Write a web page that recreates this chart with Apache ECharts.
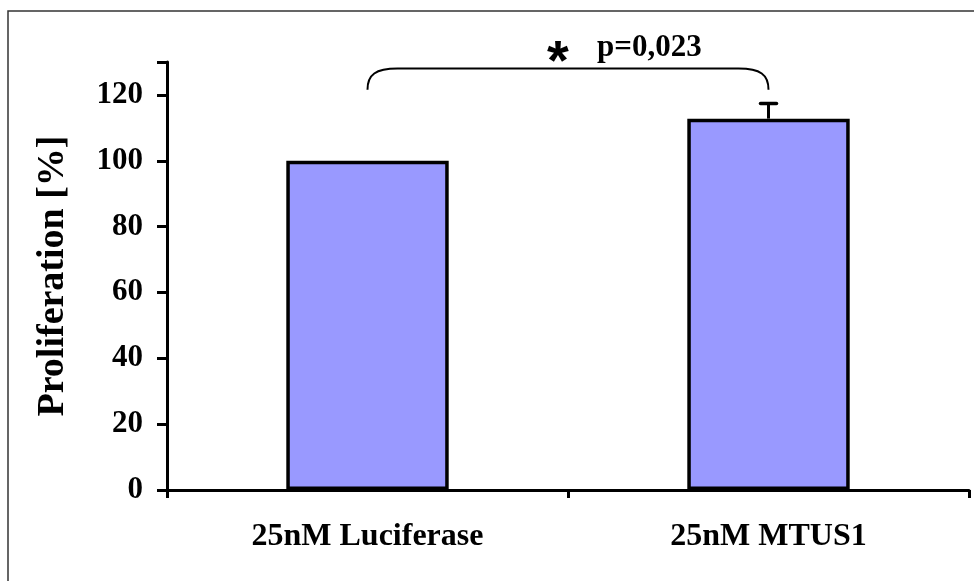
<!DOCTYPE html>
<html>
<head>
<meta charset="utf-8">
<script src="https://cdn.jsdelivr.net/npm/echarts@6/dist/echarts.min.js"></script>
<style>
html,body{margin:0;padding:0;background:#fff;}
#c{width:974px;height:581px;}
</style>
</head>
<body>
<div id="c"></div>
<script>
var categories = ['25nM Luciferase', '25nM MTUS1'];
var values = [100, 112.8];
var errors = [0, 4.6];
var yTicks = [0, 20, 40, 60, 80, 100, 120];
var bracket = [0, 1, 128, 121.6];
var pLabel = 'p=0,023';
var starLabel = '*';

var serif = '"Liberation Serif", "Times New Roman", serif';
var chart = echarts.init(document.getElementById('c'), null, {renderer: 'canvas'});

var errData = values.map(function (v, i) { return [i, v, errors[i]]; });

chart.setOption({
  animation: false,
  backgroundColor: '#fff',
  graphic: [{
    type: 'rect',
    shape: {x: 8, y: 11, width: 1100, height: 1100},
    style: {fill: 'none', stroke: '#333', lineWidth: 1.5},
    silent: true, z: -1
  }],
  grid: {left: 167, right: 5, top: 62, bottom: 91, containLabel: false},
  xAxis: {
    type: 'category',
    data: categories,
    axisLine: {lineStyle: {color: '#000', width: 3}},
    axisTick: {show: true, length: 8, lineStyle: {color: '#000', width: 3}},
    axisLabel: {color: '#000', fontFamily: serif, fontWeight: 'bold', fontSize: 32, margin: 31}
  },
  yAxis: {
    type: 'value',
    min: 0, max: 130, interval: 20,
    name: 'Proliferation [%]',
    nameLocation: 'middle',
    nameGap: 95,
    nameTextStyle: {color: '#000', fontFamily: serif, fontWeight: 'bold', fontSize: 38},
    axisLine: {show: true, lineStyle: {color: '#000', width: 3}},
    axisTick: {show: true, length: 10, lineStyle: {color: '#000', width: 3}},
    axisLabel: {color: '#000', fontFamily: serif, fontWeight: 'bold', fontSize: 31, margin: 24,
      formatter: function (v) { return yTicks.indexOf(v) >= 0 ? String(v) : ''; }},
    splitLine: {show: false}
  },
  series: [{
    type: 'bar',
    data: values,
    barWidth: '40.5%',
    itemStyle: {color: '#9999FF', borderColor: '#000', borderWidth: 3.5},
    z: 2
  }, {
    type: 'custom',
    data: errData,
    z: 3,
    renderItem: function (params, api) {
      var i = api.value(0), v = api.value(1), e = api.value(2);
      if (!e) return null;
      var p0 = api.coord([i, v]);
      var p1 = api.coord([i, v + e]);
      return {
        type: 'group',
        children: [
          {type: 'line', shape: {x1: p0[0], y1: p0[1], x2: p1[0], y2: p1[1]}, style: {stroke: '#000', lineWidth: 3}},
          {type: 'line', shape: {x1: p1[0] - 8, y1: p1[1], x2: p1[0] + 8, y2: p1[1]}, style: {stroke: '#000', lineWidth: 3.5, lineCap: 'round'}}
        ]
      };
    }
  }, {
    type: 'custom',
    data: [bracket],
    z: 4,
    clip: false,
    renderItem: function (params, api) {
      var a = api.coord([api.value(0), api.value(2)]);
      var b = api.coord([api.value(1), api.value(2)]);
      var yEnd = api.coord([api.value(0), api.value(3)])[1];
      var yTop = a[1];
      var x1 = a[0], x2 = b[0];
      var rx = 30;
      var d = 'M' + x1 + ' ' + yEnd +
        ' C' + x1 + ' ' + (yTop + 6) + ' ' + (x1 + 8) + ' ' + yTop + ' ' + (x1 + rx) + ' ' + yTop +
        ' L' + (x2 - rx) + ' ' + yTop +
        ' C' + (x2 - 8) + ' ' + yTop + ' ' + x2 + ' ' + (yTop + 6) + ' ' + x2 + ' ' + yEnd;
      var mid = (x1 + x2) / 2;
      return {
        type: 'group',
        children: [
          {type: 'path', shape: {pathData: d}, style: {fill: 'none', stroke: '#000', lineWidth: 2}},
          {type: 'text', x: mid - 10, y: yTop - 5, style: {text: starLabel, fill: '#000', font: 'bold 56px "Liberation Sans", Arial, sans-serif', align: 'center', verticalAlign: 'middle'}},
          {type: 'text', x: mid + 29, y: yTop - 21, style: {text: pLabel, fill: '#000', font: 'bold 31px ' + serif, align: 'left', verticalAlign: 'middle'}}
        ]
      };
    }
  }]
});
</script>
</body>
</html>
